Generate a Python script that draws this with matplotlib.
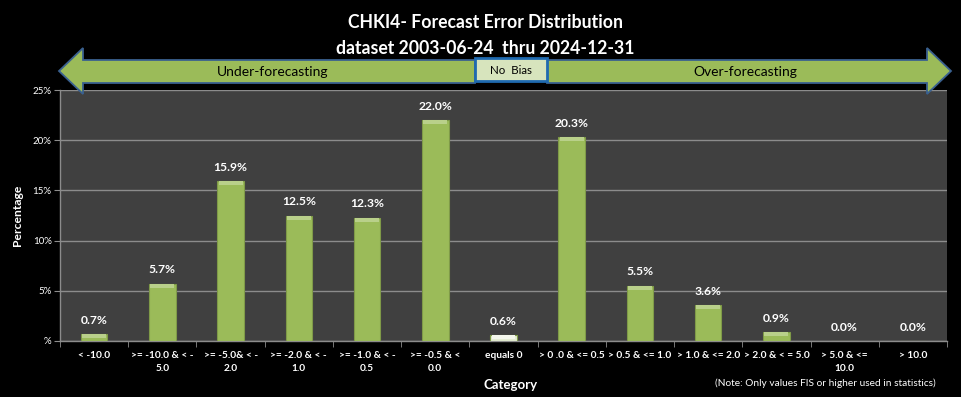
import matplotlib
matplotlib.use("Agg")
import matplotlib.pyplot as plt
from matplotlib.patches import Polygon, Rectangle
import numpy as np

plt.rcParams['font.family'] = ['Lato', 'DejaVu Sans']

categories = ["< -10.0", ">= -10.0 & < -\n5.0", ">= -5.0& < -\n2.0", ">= -2.0 & < -\n1.0",
              ">= -1.0 & < -\n0.5", ">= -0.5 & <\n0.0", "equals 0", "> 0 .0 & <= 0.5",
              "> 0.5 & <= 1.0", "> 1.0 & <= 2.0", "> 2.0 & < = 5.0", "> 5.0 & <=\n10.0", "> 10.0"]
values = [0.7, 5.7, 15.9, 12.5, 12.3, 22.0, 0.6, 20.3, 5.5, 3.6, 0.9, 0.0, 0.0]
yticks = [0, 5, 10, 15, 20, 25]
yticklabels = ["%", "5%", "10%", "15%", "20%", "25%"]
title1 = "CHKI4- Forecast Error Distribution"
title2 = "dataset 2003-06-24  thru 2024-12-31"

W, H = 961, 397
fig = plt.figure(figsize=(W / 100, H / 100), dpi=100, facecolor='black')

def fx(px):
    return px / W

def fy(py):
    return 1 - py / H

ax = fig.add_axes([fx(60), fy(341), fx(947) - fx(60), fy(90) - fy(341)])
ax.set_facecolor('#404040')
x = np.arange(len(values))
bw = 0.39
green = '#9BBB59'
colors = [green] * len(values)
colors[categories.index("equals 0")] = '#E4ECD3'
ax.bar(x, values, width=bw, color=colors, edgecolor='#7F9A48', linewidth=0.8, zorder=3)
# bevel highlight on top of each bar
vals = np.array(values)
bev = np.minimum(vals, 0.4)
top_colors = ['#B9D08A' if c == green else '#F4F7EC' for c in colors]
ax.bar(x, bev, bottom=vals - bev, width=bw * 0.9, color=top_colors, edgecolor='none', linewidth=0, zorder=4)

for xi, v in zip(x, values):
    ax.annotate(f"{v:.1f}%", (xi, v), xytext=(0, 6), textcoords='offset points',
                ha='center', va='bottom', color='white', fontsize=8.7, fontweight='bold')

ax.set_xlim(-0.5, len(values) - 0.5)
ax.set_ylim(0, 25)
ax.set_yticks(yticks)
ax.set_yticklabels(yticklabels, color='white', fontsize=7)
ax.yaxis.grid(True, color='#8C8C8C', linewidth=1, zorder=0)
ax.set_axisbelow(True)
ax.tick_params(axis='y', length=4, color='#8C8C8C', pad=2)

ax.set_xticks(x)
ax.set_xticklabels(categories, color='white', fontsize=7.3, fontweight='bold', linespacing=1.6)
ax.tick_params(axis='x', length=0, pad=7)
ax.set_xticks(np.arange(-0.5, len(values), 1.0), minor=True)
ax.tick_params(axis='x', which='minor', length=4, color='#8C8C8C', direction='out')

for s in ['top', 'right']:
    ax.spines[s].set_visible(False)
for s in ['left', 'bottom']:
    ax.spines[s].set_color('#8C8C8C')
    ax.spines[s].set_linewidth(1)

fig.text(fx(18), fy(215), "Percentage", rotation=90, color='white', fontsize=8.7,
         fontweight='bold', ha='center', va='center')
fig.text(fx(511), fy(385), "Category", color='white', fontsize=9.5, fontweight='bold',
         ha='center', va='center')
fig.text(fx(825), fy(383), "(Note: Only values FIS or higher used in statistics)", color='white',
         fontsize=7.3, ha='center', va='center')

fig.text(fx(485), fy(23), title1, color='white', fontsize=12.7, fontweight='bold', ha='center', va='center')
fig.text(fx(485), fy(48), title2, color='white', fontsize=12.7, fontweight='bold', ha='center', va='center')

# arrows
bt, bb = 60, 83
ht, hb = 48, 94
left_arrow = [(59, 71), (83, ht), (83, bt), (475, bt), (475, bb), (83, bb), (83, hb)]
right_arrow = [(951, 71), (927, ht), (927, bt), (547, bt), (547, bb), (927, bb), (927, hb)]
for pts in (left_arrow, right_arrow):
    poly = Polygon([(fx(a), fy(b)) for a, b in pts], closed=True, transform=fig.transFigure,
                   facecolor=green, edgecolor='#3A6190', linewidth=1.3, zorder=5)
    fig.add_artist(poly)
box = Rectangle((fx(475), fy(81)), fx(547) - fx(475), fy(58) - fy(81), transform=fig.transFigure,
                facecolor='#D7E4BD', edgecolor='#1F6AB0', linewidth=2, zorder=6)
fig.add_artist(box)
fig.text(fx(511), fy(70), "No  Bias", fontsize=8.3, ha='center', va='center', color='black', zorder=7)
fig.text(fx(273), fy(72), "Under-forecasting", fontsize=10, ha='center', va='center', color='black', zorder=7)
fig.text(fx(745), fy(72), "Over-forecasting", fontsize=10, ha='center', va='center', color='black', zorder=7)

fig.savefig("out.png", dpi=100, facecolor='black')
